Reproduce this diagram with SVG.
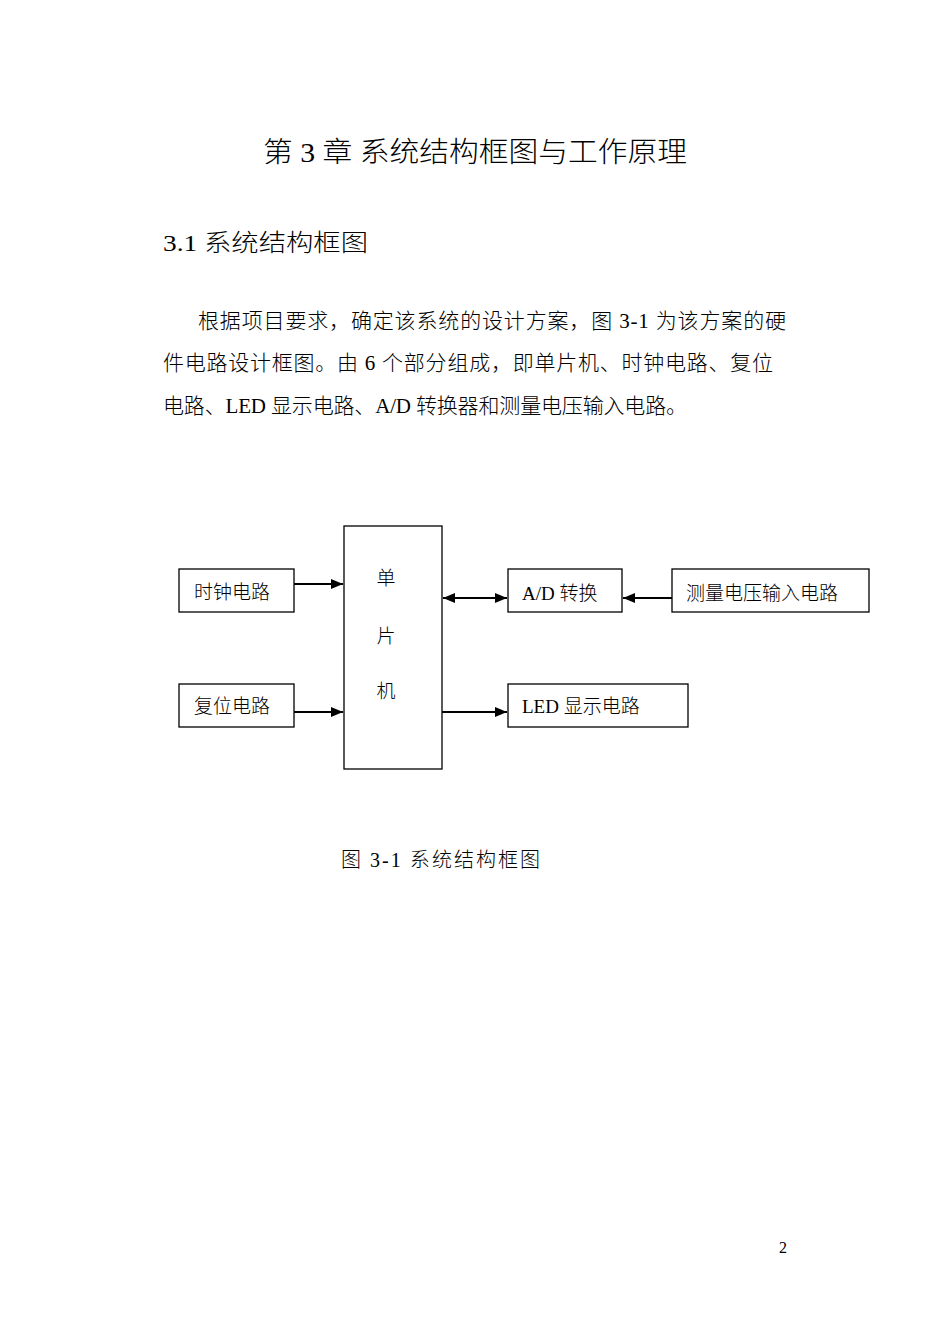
<svg xmlns="http://www.w3.org/2000/svg" width="950" height="1343" viewBox="0 0 950 1343">
<style>
text{font-family:"Liberation Serif","Noto Sans CJK SC",serif;fill:#000;font-weight:300}
.box{fill:#fff;stroke:#000;stroke-width:1.3}
.lbl{font-size:19px}
.conn{stroke:#000;stroke-width:2.2;fill:none}
</style>
<defs>
<marker id="ah" viewBox="0 0 12 10" refX="12" refY="5" markerWidth="12" markerHeight="10" markerUnits="userSpaceOnUse" orient="auto-start-reverse">
<path d="M0,0 L12,5 L0,10 z" fill="#000"/>
</marker>
</defs>
<rect width="950" height="1343" fill="#fff"/>
<text x="263" y="162" font-size="28" textLength="424" lengthAdjust="spacingAndGlyphs">第 3 章 系统结构框图与工作原理</text>
<text x="163" y="251" font-size="24" textLength="205" lengthAdjust="spacingAndGlyphs">3.1  系统结构框图</text>
<text x="198" y="328" font-size="21" textLength="588" lengthAdjust="spacing">根据项目要求，确定该系统的设计方案，图 3-1 为该方案的硬</text>
<text x="163" y="370" font-size="21" textLength="610" lengthAdjust="spacing">件电路设计框图。由 6 个部分组成，即单片机、时钟电路、复位</text>
<text x="163" y="413" font-size="21" textLength="524" lengthAdjust="spacing">电路、LED 显示电路、A/D 转换器和测量电压输入电路。</text>

<g id="connectors">
<line class="conn" x1="294" y1="584" x2="343" y2="584" marker-end="url(#ah)"/>
<line class="conn" x1="294" y1="712" x2="343" y2="712" marker-end="url(#ah)"/>
<line class="conn" x1="443" y1="598" x2="507" y2="598" marker-start="url(#ah)" marker-end="url(#ah)"/>
<line class="conn" x1="672" y1="598" x2="623" y2="598" marker-end="url(#ah)"/>
<line class="conn" x1="442" y1="712" x2="507" y2="712" marker-end="url(#ah)"/>
</g>

<g id="clock">
<rect class="box" x="179" y="569" width="115" height="43"/>
<text class="lbl" x="194" y="599">时钟电路</text>
</g>
<g id="reset">
<rect class="box" x="179" y="684" width="115" height="43"/>
<text class="lbl" x="194" y="713">复位电路</text>
</g>
<g id="mcu">
<rect class="box" x="344" y="526" width="98" height="243"/>
<text class="lbl" x="386" y="585" text-anchor="middle">单</text>
<text class="lbl" x="386" y="643" text-anchor="middle">片</text>
<text class="lbl" x="386" y="698" text-anchor="middle">机</text>
</g>
<g id="adc">
<rect class="box" x="508" y="569" width="114" height="43"/>
<text class="lbl" x="522" y="600">A/D 转换</text>
</g>
<g id="input">
<rect class="box" x="672" y="569" width="197" height="43"/>
<text class="lbl" x="686" y="600">测量电压输入电路</text>
</g>
<g id="led">
<rect class="box" x="508" y="684" width="180" height="43"/>
<text class="lbl" x="522" y="713">LED 显示电路</text>
</g>

<text x="341" y="867" font-size="20" textLength="199" lengthAdjust="spacing">图 3-1  系统结构框图</text>
<text x="783" y="1253" font-size="16" text-anchor="middle">2</text>
</svg>
